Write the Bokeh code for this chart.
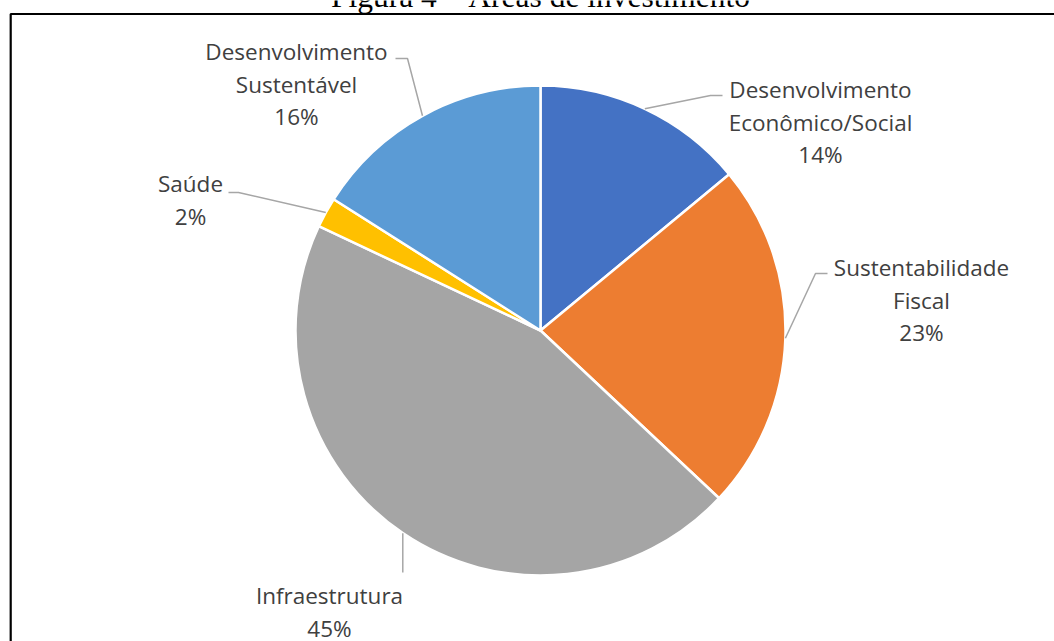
import math
from bokeh.plotting import figure
from bokeh.models import ColumnDataSource, Range1d
from bokeh.core.properties import value
from bokeh.embed import file_html
from bokeh.resources import INLINE

# ---- data ----
categories = ["Desenvolvimento\nEconômico/Social", "Sustentabilidade\nFiscal",
              "Infraestrutura", "Saúde", "Desenvolvimento\nSustentável"]
values = [14, 23, 45, 2, 16]
colors = ["#4472C4", "#ED7D31", "#A5A5A5", "#FFC000", "#5B9BD5"]
title_text = "Figura 4 – Áreas de investimento"

# ---- layout (pixel positions, y measured from top) ----
W, H = 1054, 641
CX, CY, R = 540, 330, 245
# label anchor: center x, center y of first line
label_pos = [(820, 89), (921, 267), (329, 595), (190, 183), (296, 51)]
# leader elbow and end points
elbows = [(710, 95), (815, 273), (None, 572), (238, 192), (407, 58)]
ends = [(722, 95), (827, 273), (None, 572), (228, 192), (395, 58)]
LINE_H = 32.5


def Y(py):
    return H - py


p = figure(width=W, height=H, x_range=Range1d(0, W), y_range=Range1d(0, H),
           output_backend="svg", toolbar_location=None, min_border=0,
           background_fill_color="white", border_fill_color="white")
p.outline_line_color = None
p.axis.visible = False
p.grid.visible = False

total = float(sum(values))
starts, stops, mids = [], [], []
cum = 0.0
for v in values:
    f0 = cum / total
    cum += v
    f1 = cum / total
    starts.append(math.pi / 2 - 2 * math.pi * f0)
    stops.append(math.pi / 2 - 2 * math.pi * f1)
    mids.append(math.pi / 2 - 2 * math.pi * (f0 + f1) / 2)

src = ColumnDataSource(dict(start=starts, end=stops, color=colors,
                            x=[CX] * len(values), y=[Y(CY)] * len(values)))
p.wedge(x="x", y="y", radius=R, start_angle="start", end_angle="end",
        direction="clock", fill_color="color", line_color="white",
        line_width=2.5, source=src)

# leader lines
for i, m in enumerate(mids):
    sx = CX + R * math.cos(m)
    sy = Y(CY) + R * math.sin(m)
    ex, ey = elbows[i]
    nx, ny = ends[i]
    if ex is None:
        ex = sx
        nx = sx
    p.line([sx, ex, nx], [sy, Y(ey), Y(ny)], line_color="#A6A6A6", line_width=1.5)

# labels
tx, ty, tt = [], [], []
for i, cat in enumerate(categories):
    lines = cat.split("\n") + ["%d%%" % values[i]]
    lx, ly = label_pos[i]
    for k, ln in enumerate(lines):
        tx.append(lx)
        ty.append(Y(ly + k * LINE_H))
        tt.append(ln)
p.text(x=tx, y=ty, text=tt, text_align="center", text_baseline="middle",
       text_font=value("Open Sans"), text_font_size="22.5px", text_color="#404040")

# figure caption (cut off at top edge)
p.text(x=[540], y=[Y(-4.5)], text=[title_text], text_align="center",
       text_baseline="alphabetic", text_font=value("Liberation Serif"),
       text_font_size="31.5px", text_color="black")

# frame border
p.line([10.2, 10.2, W + 5], [Y(H + 5), Y(13.5), Y(13.5)], line_color="black",
       line_width=2.2)

open("out.html", "w").write(file_html(p, INLINE))
